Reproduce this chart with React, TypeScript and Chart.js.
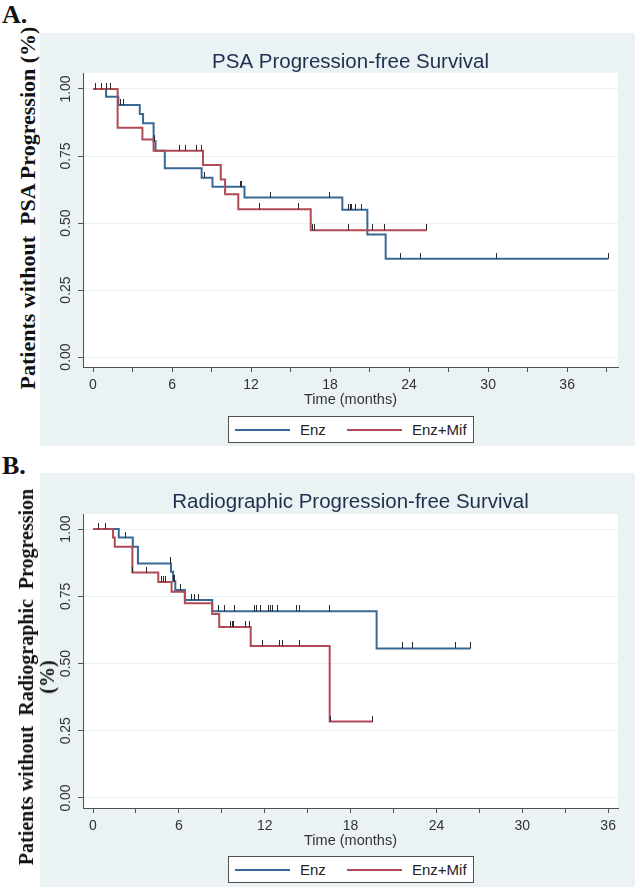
import React, { useEffect, useRef } from "react";
import { Chart, registerables } from "chart.js";

Chart.register(...registerables);

// ---------- Data (Kaplan-Meier step points: time in months, survival after event) ----------
const SERIES_LABELS = ["Enz", "Enz+Mif"];

// Panel A: PSA progression-free survival
const A_ENZ_TIME = [0, 0.99, 1.92, 3.55, 3.8, 4.6, 4.75, 5.45, 8.25, 9.07, 11.5, 18.93, 20.83, 22.22, 39.13];
const A_ENZ_SURV = [1, 0.971, 0.94, 0.907, 0.872, 0.805, 0.77, 0.704, 0.669, 0.635, 0.595, 0.549, 0.457, 0.367, 0.367];
const A_ENZ_CENSOR = [0.2, 0.66, 2.05, 2.3, 4.68, 8.43, 11.18, 11.26, 13.49, 17.94, 19.38, 19.52, 19.66, 19.9, 20.4, 23.31, 24.88, 30.65, 39.13];

const A_MIF_TIME = [0, 1.87, 3.75, 4.6, 8.35, 9.7, 10.03, 11.03, 16.53, 25.33];
const A_MIF_SURV = [1, 0.855, 0.812, 0.77, 0.716, 0.662, 0.607, 0.551, 0.473, 0.473];
const A_MIF_CENSOR = [1.04, 1.29, 6.53, 6.99, 7.87, 8.25, 12.65, 15.59, 16.7, 16.78, 19.39, 21.24, 22.12, 25.33];

// Panel B: Radiographic progression-free survival
const B_ENZ_TIME = [0, 1.8, 2.78, 3.14, 5.45, 5.6, 5.75, 6.42, 8.33, 19.82, 26.38];
const B_ENZ_SURV = [1, 0.968, 0.934, 0.872, 0.841, 0.806, 0.773, 0.736, 0.694, 0.556, 0.556];
const B_ENZ_CENSOR = [0.35, 0.84, 2.3, 5.42, 5.65, 5.72, 6.14, 6.87, 7.06, 7.38, 8.75, 9.21, 9.91, 11.3, 11.42, 11.72, 12.28, 12.42, 12.54, 12.86, 14.25, 14.4, 16.5, 21.65, 22.3, 25.33, 26.38];

const B_MIF_TIME = [0, 1.4, 1.52, 2.75, 4.56, 5.49, 6.42, 8.33, 8.82, 11.02, 16.54, 19.56];
const B_MIF_SURV = [1, 0.968, 0.934, 0.838, 0.803, 0.767, 0.724, 0.684, 0.636, 0.565, 0.284, 0.284];
const B_MIF_CENSOR = [2.76, 3.74, 4.77, 4.91, 5.09, 9.6, 9.72, 9.79, 10.65, 10.95, 11.84, 13.05, 13.23, 14.44, 16.6, 19.56];

// Tick values
const X_TICKS_A = [0, 3, 6, 9, 12, 15, 18, 21, 24, 27, 30, 33, 36, 39];
const X_TICKS_B = [0, 3, 6, 9, 12, 15, 18, 21, 24, 27, 30, 33, 36];
const X_LABEL_STEP = 6;
const Y_TICKS = [0, 0.25, 0.5, 0.75, 1];

const TITLE_A = "PSA Progression-free Survival";
const TITLE_B = "Radiographic Progression-free Survival";
const X_TITLE = "Time (months)";
const Y_TITLE_A = "Patients without  PSA Progression (%)";
const Y_TITLE_B = "Patients without  Radiographic  Progression\n(%)";

// ---------- Styles ----------
const BLUE = "#3a6894";
const RED = "#b04a54";
const PANEL_BG = "#eaf2f3";
const GRID = "#eaf1f3";
const AXIS = "#505050";
const TICK_TEXT = "#333333";
const TITLE_COLOR = "#1e2f4f";
const SANS = "'Liberation Sans', Arial, sans-serif";
const SERIF = "'Liberation Serif', 'Times New Roman', serif";

function survAt(times: number[], surv: number[], t: number) {
  let s = surv[0];
  for (let i = 0; i < times.length; i++) if (times[i] <= t) s = surv[i];
  return s;
}

function makeCensorMark(): HTMLCanvasElement {
  const c = document.createElement("canvas");
  c.width = 1;
  c.height = 12;
  const g = c.getContext("2d")!;
  g.fillStyle = "#2a2a2a";
  g.fillRect(0, 0, 1, 6);
  return c;
}

const bgPlugin = {
  id: "panelBg",
  beforeDraw(chart: any) {
    const { ctx, chartArea: a, width, height } = chart;
    ctx.save();
    ctx.fillStyle = PANEL_BG;
    ctx.fillRect(0, 0, width, height);
    ctx.fillStyle = "#ffffff";
    ctx.fillRect(a.left, a.top, a.right - a.left, a.bottom - a.top);
    ctx.restore();
  },
};

type Spec = {
  title: string;
  enzT: number[]; enzS: number[]; enzC: number[];
  mifT: number[]; mifS: number[]; mifC: number[];
  xTicks: number[]; xMin: number; xMax: number;
  yMin: number; yMax: number;
  titleBottom: number;
  width: number; height: number;
};

const SPEC_A: Spec = {
  title: TITLE_A,
  enzT: A_ENZ_TIME, enzS: A_ENZ_SURV, enzC: A_ENZ_CENSOR,
  mifT: A_MIF_TIME, mifS: A_MIF_SURV, mifC: A_MIF_CENSOR,
  xTicks: X_TICKS_A, xMin: -0.76, xMax: 39.86,
  yMin: -0.0373, yMax: 1.0597,
  titleBottom: 0.75,
  width: 595, height: 413,
};

const SPEC_B: Spec = {
  title: TITLE_B,
  enzT: B_ENZ_TIME, enzS: B_ENZ_SURV, enzC: B_ENZ_CENSOR,
  mifT: B_MIF_TIME, mifS: B_MIF_SURV, mifC: B_MIF_CENSOR,
  xTicks: X_TICKS_B, xMin: -0.7, xMax: 36.69,
  yMin: -0.0372, yMax: 1.0558,
  titleBottom: 1.75,
  width: 595, height: 414,
};

function buildConfig(p: Spec, mark: HTMLCanvasElement): any {
  const pts = (ts: number[], ss: number[]) => ts.map((t, i) => ({ x: t, y: ss[i] }));
  const censors = [
    ...p.enzC.map((t) => ({ x: t, y: survAt(p.enzT, p.enzS, t) })),
    ...p.mifC.map((t) => ({ x: t, y: survAt(p.mifT, p.mifS, t) })),
  ];
  return {
    type: "scatter",
    data: {
      datasets: [
        {
          label: "censored",
          data: censors,
          pointStyle: mark,
          pointRadius: 3,
          pointHoverRadius: 3,
          showLine: false,
          order: 1,
        },
        {
          label: SERIES_LABELS[1],
          data: pts(p.mifT, p.mifS),
          showLine: true,
          stepped: true,
          borderColor: RED,
          backgroundColor: RED,
          borderWidth: 2,
          pointRadius: 0,
          fill: false,
          order: 2,
        },
        {
          label: SERIES_LABELS[0],
          data: pts(p.enzT, p.enzS),
          showLine: true,
          stepped: true,
          borderColor: BLUE,
          backgroundColor: BLUE,
          borderWidth: 2,
          pointRadius: 0,
          fill: false,
          order: 3,
        },
      ],
    },
    options: {
      animation: false,
      responsive: false,
      devicePixelRatio: 1,
      layout: { padding: { left: 0, right: 17, top: 0, bottom: 0 } },
      plugins: {
        legend: { display: false },
        tooltip: { enabled: false },
        title: {
          display: true,
          text: p.title,
          fullSize: false,
          color: TITLE_COLOR,
          font: { family: SANS, size: 20.5, weight: "normal", lineHeight: 1 },
          padding: { top: 18.75, bottom: p.titleBottom },
        },
      },
      scales: {
        x: {
          type: "linear",
          min: p.xMin,
          max: p.xMax,
          afterBuildTicks: (s: any) => {
            s.ticks = p.xTicks.map((v) => ({ value: v }));
          },
          afterFit: (s: any) => {
            s.height = 79;
          },
          ticks: {
            autoSkip: false,
            maxRotation: 0,
            minRotation: 0,
            padding: 5,
            color: TICK_TEXT,
            font: { family: SANS, size: 14 },
            callback: (v: any) => (Number(v) % X_LABEL_STEP === 0 ? String(v) : ""),
          },
          grid: {
            drawOnChartArea: false,
            drawTicks: true,
            tickLength: 5,
            tickColor: AXIS,
            tickWidth: 1,
          },
          border: { display: true, color: AXIS, width: 1 },
          title: {
            display: true,
            text: X_TITLE,
            color: TICK_TEXT,
            font: { family: SANS, size: 14.5, lineHeight: 1.2 },
            padding: { top: 0, bottom: 37.3 },
          },
        },
        y: {
          type: "linear",
          min: p.yMin,
          max: p.yMax,
          afterBuildTicks: (s: any) => {
            s.ticks = Y_TICKS.map((v) => ({ value: v }));
          },
          afterFit: (s: any) => {
            s.width = 43;
          },
          ticks: {
            minRotation: 90,
            maxRotation: 90,
            crossAlign: "center",
            padding: -2,
            color: TICK_TEXT,
            font: { family: SANS, size: 14 },
            callback: (v: any) => Number(v).toFixed(2),
          },
          grid: {
            drawOnChartArea: true,
            color: GRID,
            lineWidth: 1,
            drawTicks: true,
            tickLength: 5,
            tickColor: AXIS,
            tickWidth: 1,
          },
          border: { display: true, color: AXIS, width: 1 },
        },
      },
    },
    plugins: [bgPlugin],
  };
}

function KMChart({ spec, left, top }: { spec: Spec; left: number; top: number }) {
  const ref = useRef<HTMLCanvasElement | null>(null);
  useEffect(() => {
    if (!ref.current) return;
    const chart = new Chart(ref.current, buildConfig(spec, makeCensorMark()));
    return () => chart.destroy();
  }, [spec]);
  return (
    <canvas
      ref={ref}
      width={spec.width}
      height={spec.height}
      style={{ position: "absolute", left, top, width: spec.width, height: spec.height, display: "block" }}
    />
  );
}

function Legend({ top }: { top: number }) {
  const text: React.CSSProperties = { position: "absolute", top: 4, lineHeight: "17px", whiteSpace: "nowrap" };
  return (
    <div
      style={{
        position: "absolute",
        left: 228,
        top,
        width: 246,
        height: 27,
        boxSizing: "border-box",
        border: `1px solid ${AXIS}`,
        background: "#fff",
        fontFamily: SANS,
        fontSize: 15,
        color: "#222",
      }}
    >
      <div style={{ position: "absolute", left: 6, top: 11.5, width: 55, height: 2, background: BLUE }} />
      <span style={{ ...text, left: 71 }}>{SERIES_LABELS[0]}</span>
      <div style={{ position: "absolute", left: 118, top: 11.5, width: 55, height: 2, background: RED }} />
      <span style={{ ...text, left: 183 }}>{SERIES_LABELS[1]}</span>
    </div>
  );
}

function YTitle({ text, cx, cy, size, lh }: { text: string; cx: number; cy: number; size: number; lh: number }) {
  return (
    <div
      style={{
        position: "absolute",
        left: cx,
        top: cy,
        transform: "translate(-50%, -50%) rotate(-90deg)",
        whiteSpace: "pre",
        textAlign: "center",
        fontFamily: SERIF,
        fontWeight: "bold",
        fontSize: size,
        lineHeight: `${lh}px`,
        color: "#111",
      }}
    >
      {text}
    </div>
  );
}

const panelLetter: React.CSSProperties = {
  position: "absolute",
  left: 2,
  fontFamily: SERIF,
  fontWeight: "bold",
  fontSize: 26,
  lineHeight: "26px",
  color: "#111",
};

export default function App() {
  return (
    <div style={{ position: "absolute", left: 0, top: 0, width: 636, height: 890, background: "#fff", overflow: "hidden" }}>
      <div style={{ ...panelLetter, top: 2 }}>A.</div>
      <KMChart spec={SPEC_A} left={40} top={33} />
      <Legend top={416} />
      <YTitle text={Y_TITLE_A} cx={26.5} cy={208} size={22} lh={23} />

      <div style={{ ...panelLetter, top: 453 }}>B.</div>
      <KMChart spec={SPEC_B} left={40} top={473} />
      <Legend top={856} />
      <YTitle text={Y_TITLE_B} cx={37} cy={677} size={20} lh={21} />
    </div>
  );
}
